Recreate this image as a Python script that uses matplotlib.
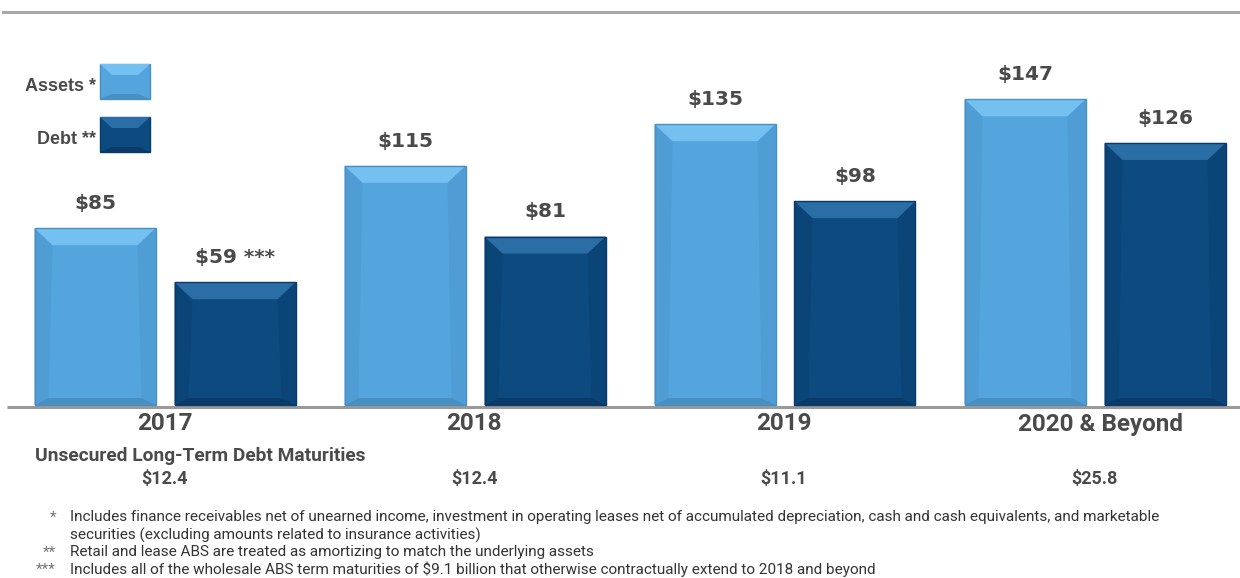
import matplotlib
matplotlib.use("Agg")
import matplotlib.pyplot as plt
from matplotlib.patches import Polygon, Rectangle
from matplotlib import font_manager

# ---------------- data ----------------
categories = ["2017", "2018", "2019", "2020 & Beyond"]
assets = [85, 115, 135, 147]
debt = [59, 81, 98, 126]
asset_labels = ["$85", "$115", "$135", "$147"]
debt_labels = ["$59 ***", "$81", "$98", "$126"]
maturities = ["$12.4", "$12.4", "$11.1", "$25.8"]
maturities_title = "Unsecured Long-Term Debt Maturities"
legend_labels = ["Assets *", "Debt **"]
footnotes = [
    ("*", "Includes finance receivables net of unearned income, investment in operating leases net of accumulated depreciation, cash and cash equivalents, and marketable"),
    ("", "securities (excluding amounts related to insurance activities)"),
    ("**", "Retail and lease ABS are treated as amortizing to match the underlying assets"),
    ("***", "Includes all of the wholesale ABS term maturities of $9.1 billion that otherwise contractually extend to 2018 and beyond"),
]

# ---------------- style ----------------
W, H = 1240, 578
DPI = 100
TXT = "#4a4a4a"
A_MAIN, A_TOP, A_SIDE, A_BOT = "#54a5dd", "#74c0f0", "#4f9dd4", "#4a8fc2"
D_MAIN, D_TOP, D_SIDE, D_BOT = "#0c4a80", "#2b6da5", "#0b4578", "#0a3a68"

avail = {f.name for f in font_manager.fontManager.ttflist}
def pick(*names):
    for n in names:
        if n in avail:
            return n
    return "DejaVu Sans"
NARROW = pick("Liberation Sans Narrow", "DejaVu Sans Condensed", "Roboto", "Liberation Sans")
BOLDF = pick("DejaVu Sans")
ARIAL = pick("Liberation Sans", "Roboto")

fig = plt.figure(figsize=(W / DPI, H / DPI), dpi=DPI)

def px(x, y):
    return (x / W, 1 - y / H)

# axes in pixel layout
ax_top_px, ax_bot_px = 60, 412
base_px = 405
ppu_y = 2.08
ax = fig.add_axes([0, 1 - ax_bot_px / H, 1, (ax_bot_px - ax_top_px) / H])
ax.set_xlim(-165 / 310, (W - 165) / 310)
ax.set_ylim(-(ax_bot_px - base_px) / ppu_y, (base_px - ax_top_px) / ppu_y)
ax.axis("off")

bw = 121 / 310
off = 70 / 310
xs = list(range(len(categories)))

def bevel_bar(xc, val, cols):
    main, top, side, bot = cols
    b = ax.bar(xc, val, width=bw, color=main, edgecolor="none", zorder=2)[0]
    x0, x1 = b.get_x(), b.get_x() + b.get_width()
    y0, y1 = 0, val
    t = ax.transData
    p0 = t.transform((0, 0)); p1 = t.transform((1, 1))
    ux = 18 / (p1[0] - p0[0]); uy = 17 / (p1[1] - p0[1])
    ubx = 14 / (p1[0] - p0[0]); uby = 7 / (p1[1] - p0[1])
    ax.add_patch(Polygon([(x0, y1), (x0 + ux, y1 - uy), (x0 + ubx, y0 + uby), (x0, y0)],
                         closed=True, facecolor=side, edgecolor="none", zorder=3))
    ax.add_patch(Polygon([(x1, y1), (x1 - ux, y1 - uy), (x1 - ubx, y0 + uby), (x1, y0)],
                         closed=True, facecolor=side, edgecolor="none", zorder=3))
    ax.add_patch(Polygon([(x0, y0), (x1, y0), (x1 - ubx, y0 + uby), (x0 + ubx, y0 + uby)],
                         closed=True, facecolor=bot, edgecolor="none", zorder=3))
    ax.add_patch(Polygon([(x0, y1), (x1, y1), (x1 - ux, y1 - uy), (x0 + ux, y1 - uy)],
                         closed=True, facecolor=top, edgecolor="none", zorder=3))
    ax.add_patch(Rectangle((x0, y0), x1 - x0, y1 - y0, facecolor="none",
                           edgecolor=bot, linewidth=1.0, zorder=4))
    return x0, x1

for i in xs:
    bevel_bar(i - off, assets[i], (A_MAIN, A_TOP, A_SIDE, A_BOT))
    bevel_bar(i + off, debt[i], (D_MAIN, D_TOP, D_SIDE, D_BOT))
    ax.annotate(asset_labels[i], (i - off, assets[i]), xytext=(0, 11), textcoords="offset points",
                ha="center", va="bottom", fontsize=14.5, fontweight="bold", color=TXT, family=BOLDF)
    ax.annotate(debt_labels[i], (i + off, debt[i]), xytext=(0, 11), textcoords="offset points",
                ha="center", va="bottom", fontsize=14.5, fontweight="bold", color=TXT, family=BOLDF)

# axis base line
ax.plot([7 / 310 - 165 / 310, (W - 165) / 310], [-1.2, -1.2], color="#9a9a9a", lw=2.2, zorder=1,
        solid_capstyle="butt", clip_on=False)

# top rule
fig.add_artist(plt.Line2D([3 / W, 1], [1 - 12 / H, 1 - 12 / H], color="#a8a8a8", lw=2.2))

# category labels
cat_x = [165, 474, 784, 1100]
for i, c in enumerate(categories):
    fig.text(*px(cat_x[i], 424), c, ha="center", va="center", fontsize=17.5, fontweight="bold",
             color=TXT, family=NARROW)
    fig.text(*px([165, 474, 784, 1094][i], 479), maturities[i], ha="center", va="center", fontsize=13,
             fontweight="bold", color=TXT, family=NARROW)
fig.text(*px(35, 456), maturities_title, ha="left", va="center", fontsize=13.8, fontweight="bold",
         color=TXT, family=NARROW)

# legend
leg_y = [81, 134]
for j, (lab, cols) in enumerate(zip(legend_labels,
                                    [(A_MAIN, A_TOP, A_SIDE, A_BOT), (D_MAIN, D_TOP, D_SIDE, D_BOT)])):
    main, top, side, bot = cols
    x0, x1 = 100 / W, 150 / W
    yt, yb = 1 - (leg_y[j] - 17) / H, 1 - (leg_y[j] + 18) / H
    bx, by = 12 / W, 11 / H
    fig.add_artist(Rectangle((x0, yb), x1 - x0, yt - yb, transform=fig.transFigure,
                             facecolor=main, edgecolor=bot, lw=1.0))
    fig.add_artist(Polygon([(x0, yt), (x1, yt), (x1 - bx, yt - by), (x0 + bx, yt - by)],
                           transform=fig.transFigure, facecolor=top, edgecolor="none"))
    fig.add_artist(Polygon([(x0, yb), (x1, yb), (x1 - bx, yb + 5 / H), (x0 + bx, yb + 5 / H)],
                           transform=fig.transFigure, facecolor=bot, edgecolor="none"))
    fig.text(*px(96, leg_y[j] + 5), lab, ha="right", va="center", fontsize=13, fontweight="bold",
             color=TXT, family=ARIAL)

# footnotes
fn_y = [517, 535, 552, 569]
for (mark, txt), y in zip(footnotes, fn_y):
    if mark:
        fig.text(*px(56, y + 1), mark, ha="right", va="center", fontsize=11, color="#777777", family=NARROW)
    fig.text(*px(70, y), txt, ha="left", va="center", fontsize=11, color="#333333", family=NARROW)

fig.savefig("out.png", dpi=DPI, facecolor="white")
